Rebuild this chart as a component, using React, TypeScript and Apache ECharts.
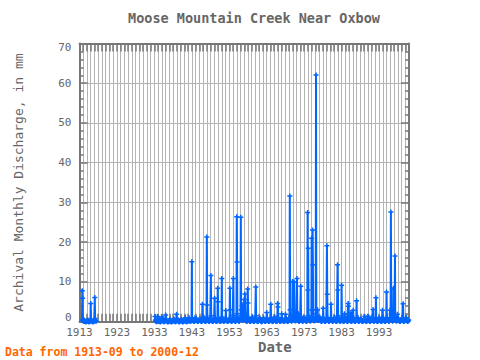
import React, { useEffect, useRef } from "react";
import * as echarts from "echarts";

const TITLE = "Moose Mountain Creek Near Oxbow";
const Y_NAME = "Archival Monthly Discharge, in mm";
const X_NAME = "Date";
const FOOTER = "Data from 1913-09 to 2000-12";

const xRange = [1913, 2001];
const yRange = [0, 70];

// first record segment: starts 1913-09, monthly values (mm)
const segmentAStart = [1913, 9];
const segmentAFlow = [
  0.4, 7.8, 5.9, 0.3, // 1913 Sep-Dec
  0.2, 0.1, 0.5, 0.3, 0.2, 0.1, 0.1, 0, 0, 0, 0.1, 0.1, // 1914
  0.1, 0.1, 0.3, 0.4, 0.2, 0.1, 0, 0, 0, 0.1, 0.2, 0.3, // 1915
  4.6, 0.5, 0.3, 0.2, 0.1, 0.1, 0, 0, 0, 0.1, 0.1, 0.2, // 1916
  0.3, 6.1, 0.8, 0.3, 0.2, 0.1, // 1917 Jan-Jun
];

// second record segment: starts 1933-03, monthly values (mm)
const segmentBStart = [1933, 3];
const segmentBFlow = [
  1.3, 0.4, 0.2, 0.1, 0.1, 0, 0.1, 0.2, 1.3, 0.3, // 1933 Mar-Dec
  0.2, 0.1, 0.3, 0.6, 0.2, 0.1, 0, 0, 0, 0.1, 0.2, 1.2, // 1934
  0.3, 0.2, 0.5, 0.8, 0.3, 0.1, 0.1, 0, 0, 0.1, 0.2, 0.4, // 1935
  1.7, 0.4, 0.3, 0.5, 0.2, 0.1, 0, 0, 0, 0, 0.1, 0.2, // 1936
  0.2, 0.3, 0.6, 0.4, 0.2, 0.1, 0, 0, 0, 0.1, 0.1, 0.2, // 1937
  0.2, 0.3, 0.5, 0.7, 0.3, 0.2, 0.1, 0, 0, 0.1, 0.2, 1.9, // 1938
  0.5, 0.3, 0.4, 0.6, 0.2, 0.1, 0, 0, 0, 0.1, 0.1, 0.2, // 1939
  0.2, 0.2, 0.5, 0.6, 0.3, 0.1, 0, 0, 0, 0.1, 0.1, 0.2, // 1940
  0.3, 0.2, 0.4, 1.0, 0.3, 0.1, 0.1, 0, 0, 0.1, 0.2, 0.3, // 1941
  0.2, 0.3, 0.5, 1.0, 0.4, 0.2, 0.1, 0.1, 0.1, 0.2, 0.3, 0.5, // 1942
  15.1, 0.8, 0.5, 0.4, 0.3, 0.2, 0.1, 0.1, 0.1, 0.2, 1.0, 0.3, // 1943
  0.3, 0.4, 0.8, 0.6, 0.3, 0.2, 0.1, 0.1, 0.1, 0.2, 0.3, 0.4, // 1944
  0.3, 0.5, 0.7, 0.5, 0.3, 0.2, 0.1, 0.1, 0.1, 0.2, 4.4, 0.6, // 1945
  0.4, 0.6, 1.2, 0.8, 0.4, 0.2, 0.1, 0.1, 0.1, 0.2, 0.3, 0.5, // 1946
  21.3, 4.2, 0.9, 0.5, 0.3, 0.2, 0.1, 0.1, 0.1, 0.2, 0.3, 0.5, // 1947
  0.6, 11.6, 1.5, 0.6, 0.3, 0.2, 0.1, 0.1, 0.1, 0.2, 0.3, 0.4, // 1948
  0.4, 5.9, 1.0, 0.5, 0.3, 0.2, 0.1, 0.1, 0.1, 0.2, 0.4, 8.4, // 1949
  5.0, 0.8, 0.6, 0.5, 0.3, 0.2, 0.1, 0.1, 0.1, 0.2, 0.3, 0.5, // 1950
  10.9, 1.2, 0.8, 0.5, 0.3, 0.2, 0.1, 0.1, 0.2, 0.3, 0.4, 0.5, // 1951
  0.5, 2.8, 0.8, 0.5, 0.3, 0.2, 0.1, 0.1, 0.1, 0.2, 0.3, 0.4, // 1952
  0.5, 0.8, 8.4, 3.0, 0.6, 0.3, 0.2, 0.1, 0.1, 0.2, 0.3, 0.5, // 1953
  0.6, 10.9, 1.5, 0.7, 0.4, 0.3, 0.2, 0.1, 0.1, 0.2, 0.4, 0.6, // 1954
  26.4, 15.0, 2.0, 1.0, 0.5, 0.3, 0.2, 0.1, 0.1, 0.3, 0.5, 0.8, // 1955
  1.0, 26.3, 3.0, 1.5, 0.8, 4.0, 1.0, 0.4, 4.3, 0.4, 0.6, 0.8, // 1956
  5.6, 0.8, 7.0, 1.0, 0.5, 0.3, 0.2, 0.1, 0.1, 0.2, 0.3, 8.2, // 1957
  4.7, 1.0, 1.0, 0.6, 0.3, 0.2, 0.1, 0.1, 0.1, 0.2, 0.3, 0.4, // 1958
  0.4, 0.6, 1.2, 0.7, 0.3, 0.2, 0.1, 0.1, 0.1, 0.2, 0.3, 0.4, // 1959
  0.5, 8.7, 1.5, 0.7, 0.3, 0.2, 0.1, 0.1, 0.1, 0.2, 0.3, 0.4, // 1960
  0.4, 0.5, 1.0, 0.6, 0.3, 0.2, 0.1, 0, 0, 0.1, 0.2, 0.3, // 1961
  0.3, 0.4, 0.9, 0.6, 0.3, 0.2, 0.1, 0.1, 0.1, 0.2, 0.3, 0.4, // 1962
  2.3, 0.6, 0.8, 0.5, 0.3, 0.2, 0.1, 0.1, 0.1, 0.2, 0.3, 0.4, // 1963
  0.5, 4.4, 1.0, 0.6, 0.3, 0.2, 0.1, 0.1, 0.1, 0.2, 0.3, 0.4, // 1964
  0.4, 0.6, 1.2, 0.7, 0.3, 0.2, 0.1, 0.1, 0.1, 0.2, 1.0, 4.6, // 1965
  3.7, 0.8, 1.0, 0.6, 0.3, 0.2, 0.1, 0.1, 0.1, 0.2, 0.3, 0.5, // 1966
  2.0, 0.7, 0.8, 0.5, 0.3, 0.2, 0.1, 0.1, 0.1, 0.2, 0.3, 0.4, // 1967
  1.9, 0.6, 0.8, 0.5, 0.3, 0.2, 0.1, 0.1, 0.1, 0.2, 0.3, 0.5, // 1968
  0.6, 1.0, 31.6, 3.0, 1.0, 0.5, 0.3, 0.2, 0.2, 0.3, 0.5, 10.1, // 1969
  1.5, 1.0, 1.0, 0.8, 10.0, 1.0, 0.4, 0.3, 0.2, 0.3, 0.5, 0.7, // 1970
  0.8, 10.9, 1.5, 0.8, 0.4, 2.0, 0.2, 0.1, 0.1, 0.2, 0.3, 0.5, // 1971
  0.5, 8.9, 1.2, 0.7, 0.4, 0.3, 0.2, 0.1, 0.1, 1.0, 0.3, 0.5, // 1972
  0.5, 0.8, 1.0, 0.7, 0.4, 0.3, 0.2, 0.1, 0.1, 0.2, 0.4, 27.5, // 1973
  8.0, 18.5, 1.5, 1.0, 0.6, 0.4, 0.3, 0.2, 0.2, 0.3, 0.5, 0.8, // 1974
  21.0, 3.0, 3.0, 23.1, 14.3, 1.0, 0.5, 0.3, 0.2, 0.3, 0.5, 0.8, // 1975
  1.0, 2.0, 62.1, 3.0, 1.0, 0.6, 0.3, 3.0, 0.3, 0.3, 0.5, 0.7, // 1976
  0.6, 0.8, 1.2, 0.7, 0.4, 0.3, 0.2, 0.1, 0.1, 0.2, 0.3, 0.4, // 1977
  0.4, 3.4, 1.0, 0.6, 0.3, 0.2, 0.1, 0.1, 0.1, 0.2, 0.3, 0.5, // 1978
  0.5, 19.1, 6.9, 1.0, 0.5, 0.3, 0.2, 0.1, 0.1, 0.2, 0.3, 0.5, // 1979
  0.4, 0.8, 4.4, 0.8, 0.4, 0.3, 0.2, 0.1, 0.1, 0.2, 0.3, 0.4, // 1980
  1.0, 0.6, 1.0, 0.7, 0.3, 0.2, 0.1, 0.1, 0.1, 0.2, 0.3, 14.3, // 1981
  8.0, 1.5, 1.0, 0.8, 0.4, 0.3, 0.2, 0.1, 0.1, 0.2, 0.3, 0.5, // 1982
  9.2, 1.0, 0.8, 0.6, 0.3, 0.2, 0.1, 0.1, 0.1, 2.0, 0.3, 0.4, // 1983
  0.5, 0.6, 0.8, 0.5, 0.3, 0.2, 0.1, 0.1, 0.1, 4.6, 3.9, 0.5, // 1984
  0.4, 0.5, 0.8, 0.6, 0.3, 0.2, 2.3, 0.1, 0.1, 0.2, 0.3, 0.4, // 1985
  0.4, 2.9, 1.0, 0.6, 0.3, 0.2, 0.1, 0.1, 0.1, 0.2, 0.3, 0.4, // 1986
  5.3, 0.8, 0.9, 0.5, 0.3, 1.0, 0.1, 0.1, 0.1, 0.2, 0.3, 0.4, // 1987
  0.3, 0.5, 0.7, 0.5, 0.3, 0.2, 0.1, 0.1, 0.1, 0.2, 0.3, 0.4, // 1988
  0.4, 0.6, 1.3, 0.6, 0.3, 0.2, 0.1, 0.1, 0.1, 0.2, 0.3, 0.4, // 1989
  0.4, 1.4, 1.2, 0.6, 0.3, 0.2, 0.1, 0.1, 0.1, 0.2, 0.3, 0.4, // 1990
  0.4, 0.5, 1.0, 0.6, 0.3, 3.1, 0.2, 0.1, 0.1, 0.2, 0.3, 0.4, // 1991
  0.4, 0.6, 6.0, 0.8, 0.4, 0.2, 0.1, 0.1, 0.1, 0.2, 0.3, 0.4, // 1992
  1.0, 0.5, 0.8, 0.6, 0.3, 0.2, 0.1, 0.1, 0.1, 0.2, 0.3, 2.9, // 1993
  0.5, 0.6, 1.0, 0.7, 0.3, 0.2, 0.1, 0.1, 0.1, 0.2, 0.3, 0.4, // 1994
  7.5, 1.0, 1.0, 0.7, 0.4, 0.3, 0.2, 0.1, 0.1, 0.2, 0.3, 2.9, // 1995
  0.6, 0.8, 27.6, 2.0, 0.8, 0.4, 0.3, 0.2, 0.2, 0.3, 8.4, 0.7, // 1996
  0.6, 0.8, 1.5, 16.5, 0.7, 0.4, 0.3, 0.2, 0.2, 0.3, 0.5, 1.9, // 1997
  0.5, 0.5, 0.8, 0.6, 0.3, 0.2, 0.1, 0.1, 0.1, 0.2, 0.3, 0.4, // 1998
  0.4, 0.6, 0.9, 0.6, 0.3, 4.5, 0.2, 0.1, 0.1, 0.2, 0.3, 0.4, // 1999
  0.4, 0.5, 1.0, 0.6, 1.0, 0.3, 0.2, 0.1, 0.1, 0.2, 0.3, 0.4, // 2000
];

const toPoints = (start: number[], values: number[]) =>
  values.map((v, i) => [start[0] + (start[1] - 1 + i) / 12, v]);

const BLUE = "#0066ff";
const FRAME = "#777777";
const GRID = "#b4b4b4";
const TEXT = "#666666";
const MONO = "'DejaVu Sans Mono', monospace";
const PLUS = "path://M3.5,0H6.5V10H3.5Z M0,3.5H10V6.5H0Z";

export default function App() {
  const ref = useRef<HTMLDivElement>(null);

  useEffect(() => {
    if (!ref.current) return;
    const chart = echarts.init(ref.current, null, { renderer: "svg" });

    const lineSeries = (data: number[][]) => ({
      type: "line",
      xAxisIndex: 0,
      yAxisIndex: 0,
      data,
      symbol: PLUS,
      symbolSize: 5,
      showSymbol: true,
      showAllSymbol: true,
      lineStyle: { color: BLUE, width: 2 },
      itemStyle: { color: BLUE, borderWidth: 0 },
      silent: true,
      z: 3,
    });

    const frameLine = { show: true, onZero: false, lineStyle: { color: FRAME, width: 2 } };
    const innerTick = { show: true, inside: true, length: 8, lineStyle: { color: FRAME, width: 1.5 } };

    chart.setOption({
      animation: false,
      backgroundColor: "#ffffff",
      title: {
        text: TITLE,
        left: 254,
        top: 11,
        padding: 0,
        textAlign: "center",
        textStyle: { fontFamily: MONO, fontSize: 13.5, fontWeight: "bold", color: TEXT },
      },
      grid: { left: 79.5, right: 71, top: 43.5, bottom: 38.3, containLabel: false },
      xAxis: [
        {
          type: "value",
          min: xRange[0],
          max: xRange[1],
          interval: 10,
          position: "bottom",
          axisLine: frameLine,
          axisTick: { show: false },
          splitLine: { show: false },
          axisLabel: {
            show: true,
            showMaxLabel: false,
            margin: 5,
            fontFamily: MONO,
            fontSize: 11,
            color: TEXT,
            formatter: (v: number) => String(v),
          },
        },
        {
          type: "value",
          min: xRange[0],
          max: xRange[1],
          interval: 1,
          position: "bottom",
          axisLine: { show: false, onZero: false },
          axisLabel: { show: false },
          axisTick: innerTick,
          splitLine: { show: true, lineStyle: { color: GRID, width: 1 } },
        },
        {
          type: "value",
          min: xRange[0],
          max: xRange[1],
          interval: 1,
          position: "top",
          axisLine: frameLine,
          axisLabel: { show: false },
          axisTick: innerTick,
          splitLine: { show: false },
        },
      ],
      yAxis: [
        {
          type: "value",
          min: yRange[0],
          max: yRange[1],
          interval: 10,
          position: "left",
          name: Y_NAME,
          nameLocation: "middle",
          nameGap: 55,
          nameTextStyle: { fontFamily: MONO, fontSize: 13, color: TEXT },
          axisLine: frameLine,
          axisTick: innerTick,
          minorTick: { show: true, splitNumber: 5, length: 4, lineStyle: { color: FRAME, width: 1.5 } },
          splitLine: { show: true, lineStyle: { color: GRID, width: 1 } },
          axisLabel: {
            margin: 8,
            formatter: (v: number) =>
              v === yRange[1] ? `{top|${v}}` : v === yRange[0] ? `{bot|${v}}` : `{n|${v}}`,
            rich: {
              top: { fontFamily: MONO, fontSize: 11, color: TEXT, padding: [7, 0, 0, 0] },
              bot: { fontFamily: MONO, fontSize: 11, color: TEXT, padding: [0, 0, 9, 0] },
              n: { fontFamily: MONO, fontSize: 11, color: TEXT },
            },
          },
        },
        {
          type: "value",
          min: yRange[0],
          max: yRange[1],
          interval: 10,
          position: "right",
          axisLine: frameLine,
          axisTick: innerTick,
          minorTick: { show: true, splitNumber: 5, length: 4, lineStyle: { color: FRAME, width: 1.5 } },
          splitLine: { show: false },
          axisLabel: { show: false },
        },
      ],
      graphic: [
        {
          type: "text",
          left: 258,
          top: 340,
          style: { text: X_NAME, fontFamily: MONO, fontSize: 14, fontWeight: "bold", fill: TEXT },
        },
        {
          type: "text",
          left: 5,
          top: 345.5,
          style: { text: FOOTER, fontFamily: MONO, fontSize: 11.5, fontWeight: "bold", fill: "#ff6600" },
        },
      ],
      series: [lineSeries(toPoints(segmentAStart, segmentAFlow)), lineSeries(toPoints(segmentBStart, segmentBFlow))],
    });

    return () => chart.dispose();
  }, []);

  return <div ref={ref} style={{ position: "absolute", left: 0, top: 0, width: 480, height: 360 }} />;
}
